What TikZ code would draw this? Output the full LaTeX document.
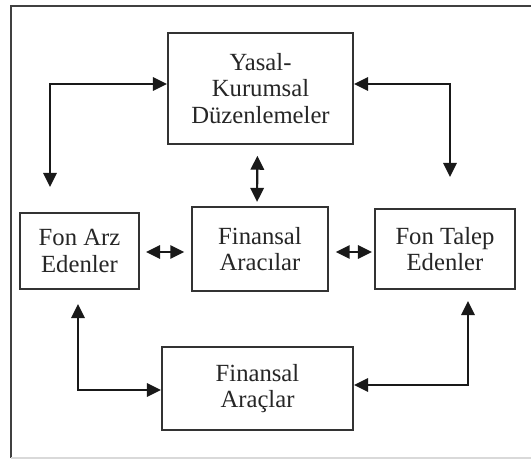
\documentclass[tikz,border=0pt]{standalone}
\usepackage{fontspec}
\setmainfont{Liberation Serif}
\usetikzlibrary{arrows.meta}
\begin{document}
\begin{tikzpicture}[x=0.75pt,y=-0.75pt,
  box/.style={draw=black!80, line width=1.6pt, align=center, inner sep=0pt,
    text=black!85, font=\fontsize{18.5}{20}\selectfont},
  link/.style={draw=black!90, line width=1.6pt, {Triangle[length=10.5pt,width=10pt]}-{Triangle[length=10.5pt,width=10pt]}}]
\useasboundingbox (0,0) rectangle (531,459);
\fill[white] (0,0) rectangle (531,459);
% outer frame
\draw[black!75, line width=1.5pt] (11,458) -- (11,6) -- (531,6);
\draw[black!15, line width=1pt] (11,458) -- (531,458);

% boxes
\node[box, minimum width=138.75pt, minimum height=83.25pt] (yasal) at (260.5,88.5)
  {Yasal-\\Kurumsal\\Düzenlemeler};
\node[box, minimum width=89.25pt, minimum height=57pt] (arz) at (79.5,251)
  {Fon Arz\\Edenler};
\node[box, minimum width=102pt, minimum height=63pt] (aracilar) at (260,249)
  {Finansal\\Aracılar};
\node[box, minimum width=105pt, minimum height=60pt] (talep) at (445,249)
  {Fon Talep\\Edenler};
\node[box, minimum width=143.25pt, minimum height=62.25pt] (araclar) at (257.5,388.5)
  {Finansal\\Araçlar};

% connectors
\coordinate (tl) at (50,187);
\coordinate (tr) at (450,177);
\draw[link] (tl) |- ([shift={(0,-4.5)}]yasal.west);
\draw[link] (tr) |- ([shift={(0,-4.5)}]yasal.east);
\draw[link, shorten <=8pt, shorten >=3pt] ([shift={(-3,0)}]yasal.south) -- ([shift={(-3,0)}]aracilar.north);
\draw[link, shorten <=4.5pt, shorten >=5pt] ([shift={(0,1)}]arz.east) -- ([shift={(0,3)}]aracilar.west);
\draw[link, shorten <=5pt, shorten >=1.5pt] ([shift={(0,3)}]aracilar.east) -- ([shift={(0,3)}]talep.west);
\draw[link] ([shift={(-1.5,14)}]arz.south) |- ([shift={(0,1.5)}]araclar.west);
\draw[link] ([shift={(23,11)}]talep.south) |- ([shift={(0,-3.5)}]araclar.east);
\end{tikzpicture}
\end{document}
